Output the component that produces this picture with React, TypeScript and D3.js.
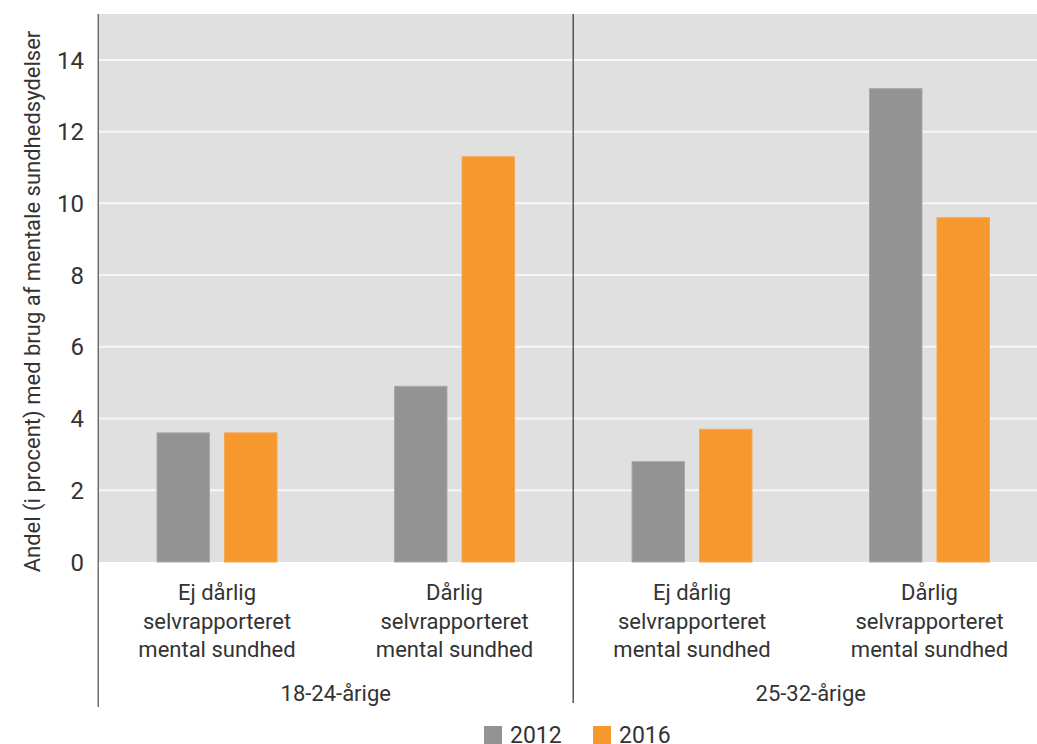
import React from "react";
import * as d3 from "d3";

const categories = [
  "Ej dårlig|selvrapporteret|mental sundhed",
  "Dårlig|selvrapporteret|mental sundhed",
  "Ej dårlig|selvrapporteret|mental sundhed",
  "Dårlig|selvrapporteret|mental sundhed",
];
const groups = ["18-24-årige", "25-32-årige"];
const series = ["2012", "2016"];
const values2012 = [3.6, 4.9, 2.8, 13.2];
const values2016 = [3.6, 11.3, 3.7, 9.6];
const yTicks = [0, 2, 4, 6, 8, 10, 12, 14];
const colors = ["#939393", "#f7982e"];
const strokes = ["#a9a9a9", "#f4a650"];

const W = 1037;
const H = 744;
const FONT = "Roboto, 'Liberation Sans', sans-serif";

export default function App() {
  const left = 98.25;
  const right = 1048.25;
  const top = 14;
  const bottom = 562;
  const x = d3.scaleBand<number>().domain(d3.range(categories.length)).range([left, right]).padding(0);
  const y = d3.scaleLinear().domain([0, 15.28]).range([bottom, top]);
  const barW = 52.5;
  const gap = 15;
  const offsets = [-(gap / 2 + barW), gap / 2];
  const data = [values2012, values2016];
  const textColor = "#333333";

  return (
    <svg width={W} height={H} style={{ position: "absolute", left: 0, top: 0 }} fontFamily={FONT}>
      <rect x={left} y={top} width={right - left} height={bottom - top} fill="#e0e0e0" />
      {yTicks.filter((t) => t > 0).map((t) => (
        <line key={t} x1={left} x2={right} y1={y(t)} y2={y(t)} stroke="#f7f7f7" strokeWidth={2} />
      ))}
      {data.map((vals, si) =>
        vals.map((v, i) => {
          const cx = x(i)! + x.bandwidth() / 2;
          return (
            <rect
              key={`${si}-${i}`}
              x={cx + offsets[si]}
              y={y(v)}
              width={barW}
              height={y(0) - y(v)}
              fill={colors[si]}
              stroke={strokes[si]}
              strokeWidth={1}
            />
          );
        })
      )}
      <line x1={left} x2={left} y1={top} y2={707} stroke="#707070" strokeWidth={1.5} />
      <line x1={x(2)!} x2={x(2)!} y1={top} y2={703} stroke="#555555" strokeWidth={1.5} />
      {yTicks.map((t) => (
        <text key={t} x={84} y={y(t)} dy="0.36em" textAnchor="end" fontSize={24} fill={textColor}>
          {t}
        </text>
      ))}
      <text
        transform={`translate(40, ${(top + 573) / 2 + 8}) rotate(-90)`}
        textAnchor="middle"
        fontSize={22}
        fill={textColor}
      >
        Andel (i procent) med brug af mentale sundhedsydelser
      </text>
      {categories.map((c, i) => {
        const cx = x(i)! + x.bandwidth() / 2;
        return (
          <text key={i} x={cx} textAnchor="middle" fontSize={22} fill={textColor}>
            {c.split("|").map((line, li) => (
              <tspan key={li} x={cx} y={600 + li * 28.5}>
                {line}
              </tspan>
            ))}
          </text>
        );
      })}
      {groups.map((g, gi) => {
        const cx = (x(gi * 2)! + x(gi * 2 + 1)! + x.bandwidth()) / 2;
        return (
          <text key={g} x={cx} y={701} textAnchor="middle" fontSize={22} fill={textColor}>
            {g}
          </text>
        );
      })}
      {series.map((s, si) => {
        const lx = [484, 593][si];
        return (
          <g key={s}>
            <rect x={lx} y={726} width={18} height={18} fill={colors[si]} />
            <text x={lx + 26} y={743} fontSize={23} fill={textColor}>
              {s}
            </text>
          </g>
        );
      })}
    </svg>
  );
}
